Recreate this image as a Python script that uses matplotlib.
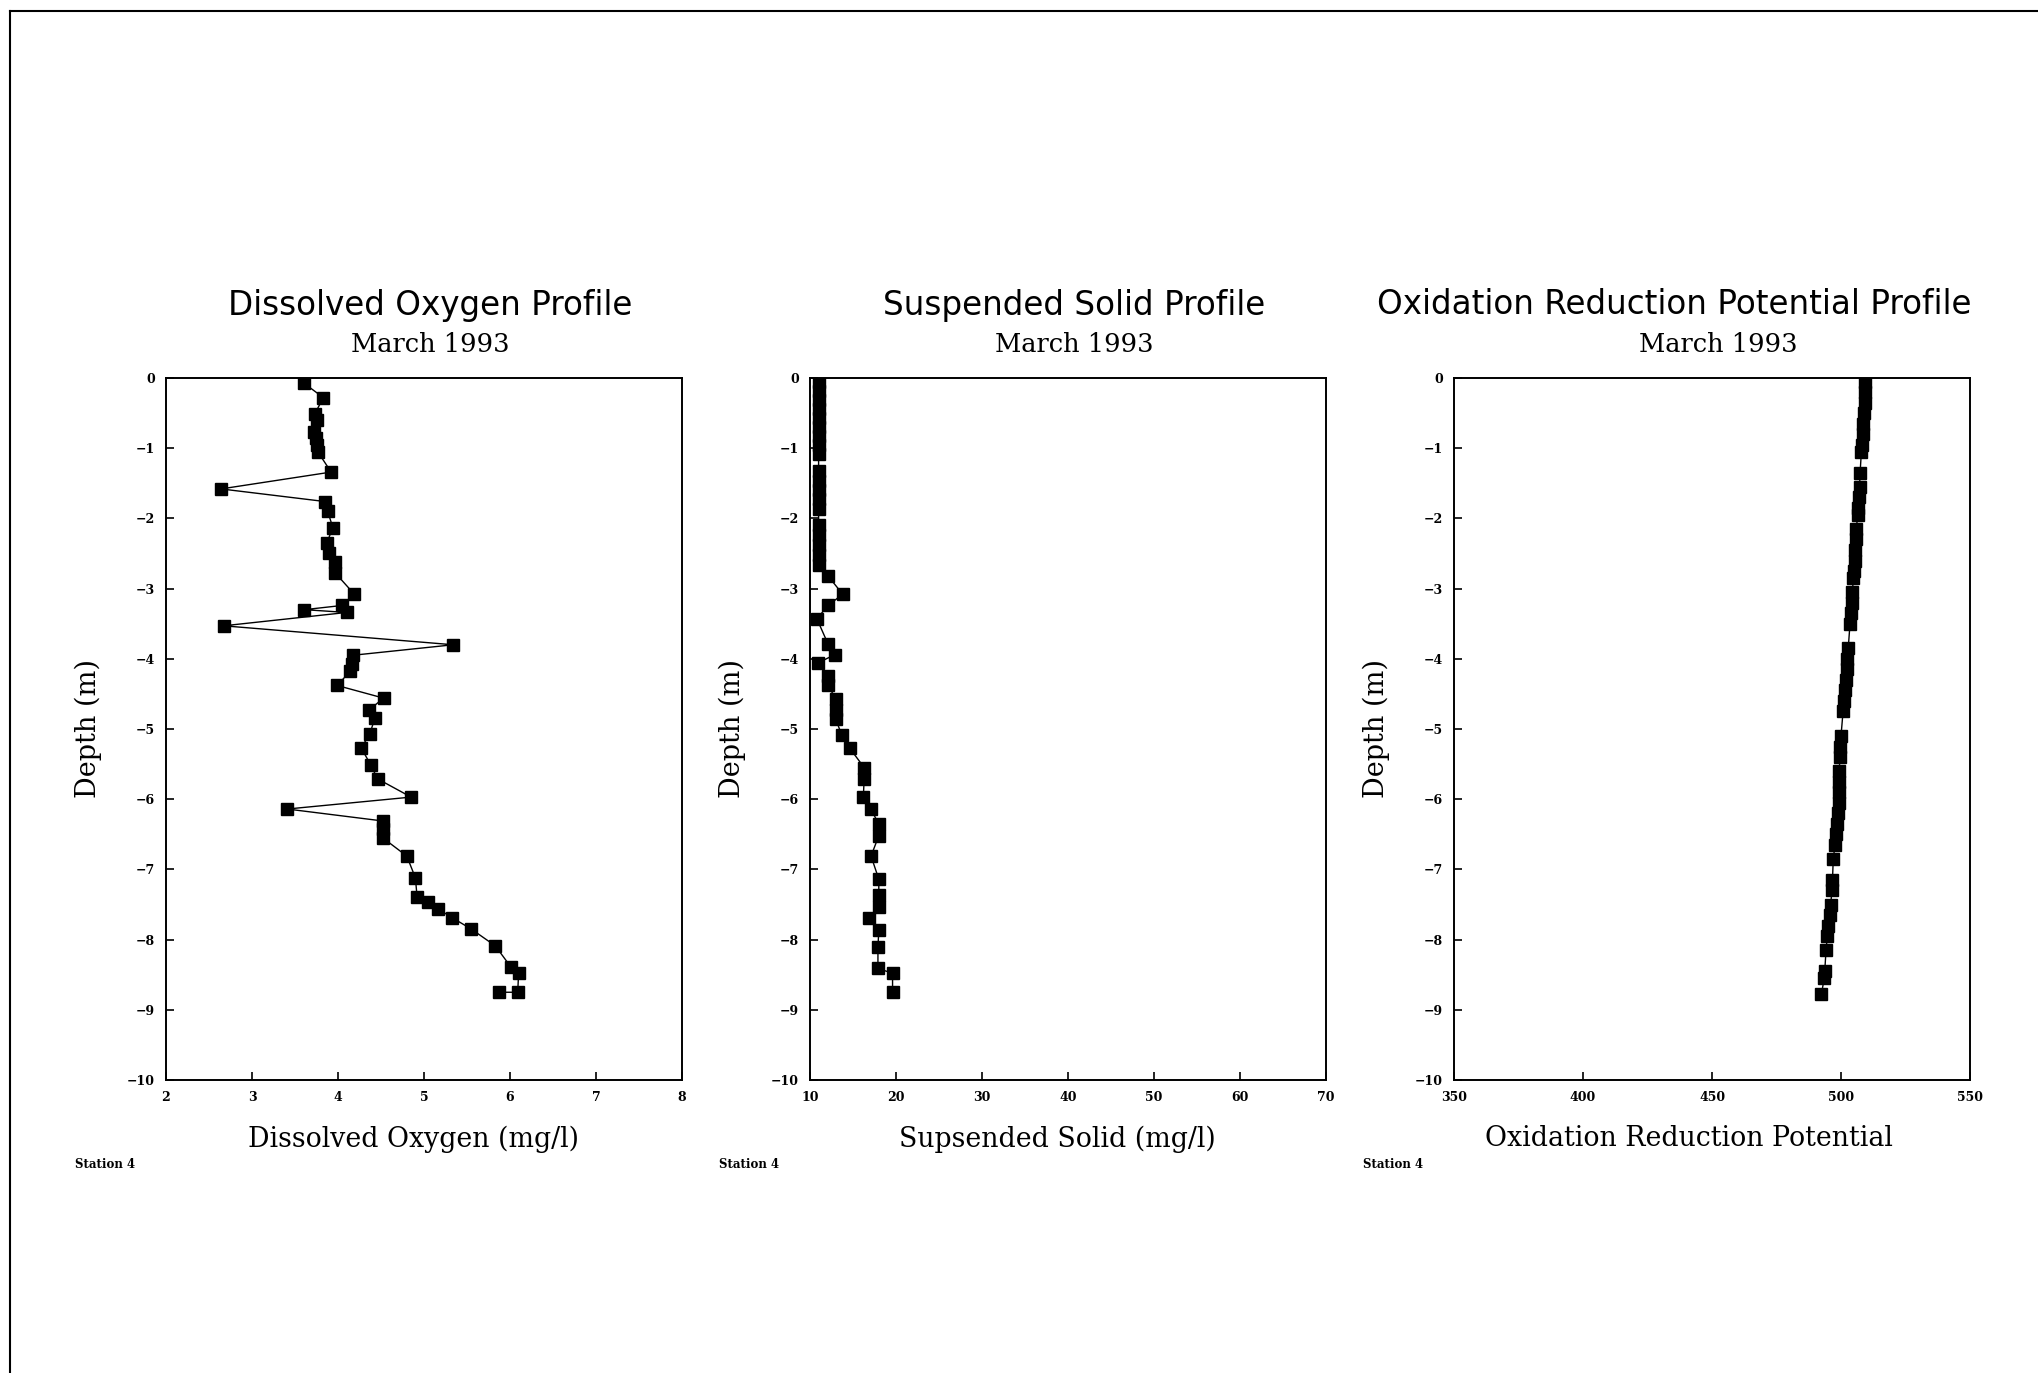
import numpy as np
import matplotlib
matplotlib.use("Agg")
import matplotlib.pyplot as plt

# Dissolved oxygen (mg/l) vs depth (m), station 4, March 1993
do_depth = [-0.07, -0.28, -0.51, -0.60, -0.77, -0.86, -0.96, -1.06, -1.34, -1.58,
            -1.76, -1.90, -2.13, -2.35, -2.49, -2.62, -2.78, -3.08, -3.24, -3.30,
            -3.34, -3.53, -3.80, -3.95, -4.08, -4.18, -4.38, -4.56, -4.73, -4.84,
            -5.07, -5.27, -5.51, -5.71, -5.97, -6.14, -6.31, -6.42, -6.55, -6.81,
            -7.12, -7.40, -7.46, -7.56, -7.69, -7.85, -8.09, -8.39, -8.47, -8.75,
            -8.75]
do_value = [3.60, 3.83, 3.73, 3.75, 3.72, 3.74, 3.76, 3.77, 3.92, 2.64,
            3.85, 3.88, 3.94, 3.87, 3.89, 3.96, 3.97, 4.19, 4.05, 3.61,
            4.10, 2.67, 5.34, 4.17, 4.16, 4.14, 3.99, 4.53, 4.36, 4.43,
            4.37, 4.27, 4.38, 4.46, 4.85, 3.41, 4.52, 4.52, 4.52, 4.80,
            4.90, 4.92, 5.05, 5.16, 5.33, 5.55, 5.83, 6.01, 6.10, 6.09,
            5.87]

# Suspended solid (mg/l)
ss_depth = [-0.05, -0.18, -0.31, -0.44, -0.57, -0.70, -0.83, -0.96, -1.08, -1.32,
            -1.47, -1.60, -1.73, -1.86, -2.10, -2.24, -2.38, -2.52, -2.66, -2.82,
            -3.08, -3.24, -3.43, -3.79, -3.94, -4.06, -4.25, -4.38, -4.57, -4.73,
            -4.86, -5.09, -5.27, -5.55, -5.71, -5.97, -6.14, -6.36, -6.52, -6.81,
            -7.14, -7.37, -7.53, -7.69, -7.87, -8.11, -8.41, -8.48, -8.75]
ss_value = [11.1, 11.0, 11.0, 11.1, 11.0, 11.0, 11.1, 11.0, 11.0, 11.0,
            11.0, 11.0, 11.0, 11.0, 11.0, 11.0, 11.0, 11.0, 11.0, 12.1,
            13.8, 12.1, 10.8, 12.1, 12.9, 10.9, 12.1, 12.1, 13.0, 13.0,
            13.0, 13.7, 14.6, 16.3, 16.3, 16.2, 17.1, 18.0, 18.0, 17.1,
            18.0, 18.0, 18.0, 16.9, 18.0, 17.9, 17.9, 19.6, 19.6]

# Oxidation reduction potential
orp_depth = [-0.05, -0.20, -0.35, -0.50, -0.65, -0.80, -0.95, -1.05, -1.35, -1.55,
             -1.70, -1.85, -1.95, -2.15, -2.30, -2.45, -2.60, -2.75, -2.85, -3.05,
             -3.20, -3.35, -3.50, -3.85, -4.00, -4.15, -4.30, -4.45, -4.60, -4.75,
             -5.10, -5.25, -5.40, -5.60, -5.75, -5.90, -6.05, -6.20, -6.35, -6.50,
             -6.65, -6.85, -7.15, -7.30, -7.50, -7.65, -7.80, -7.95, -8.15, -8.45,
             -8.55, -8.78]
orp_value = [509.4, 509.4, 509.2, 508.9, 508.6, 508.4, 508.1, 507.9, 507.4, 507.2,
             507.0, 506.7, 506.4, 506.0, 505.8, 505.5, 505.3, 505.0, 504.8, 504.4,
             504.1, 503.8, 503.5, 502.8, 502.5, 502.2, 501.9, 501.6, 501.2, 500.8,
             500.0, 499.7, 499.5, 499.4, 499.3, 499.2, 499.1, 498.7, 498.4, 498.1,
             497.7, 497.0, 496.7, 496.5, 496.0, 495.6, 495.1, 494.7, 494.2, 493.7,
             493.5, 492.4]

panels = [
    ("Dissolved Oxygen Profile", "Dissolved Oxygen (mg/l)", do_value, do_depth,
     (2, 8), [2, 3, 4, 5, 6, 7, 8]),
    ("Suspended Solid Profile", "Supsended Solid (mg/l)", ss_value, ss_depth,
     (10, 70), [10, 20, 30, 40, 50, 60, 70]),
    ("Oxidation Reduction Potential Profile", "Oxidation Reduction Potential",
     orp_value, orp_depth, (350, 550), [350, 400, 450, 500, 550]),
]

W, H = 2038, 1373
fig = plt.figure(figsize=(W / 100, H / 100), dpi=100)
fig.patch.set_facecolor("white")

serif = ["DejaVu Serif"]
sans = ["DejaVu Sans"]

lefts = [166, 810, 1454]
ax_w, ax_h = 516, 702
ax_top = 378
title_dx = [6, 6, -38]
xlab_dx = [-11, -11, -23]

for i, (title, xlabel, xs, ys, xlim, xticks) in enumerate(panels):
    ax = fig.add_axes([lefts[i] / W, 1 - (ax_top + ax_h) / H, ax_w / W, ax_h / H])
    ax.plot(xs, ys, color="black", lw=1.0, marker="s", ms=9,
            mfc="black", mec="black")
    ax.set_xlim(*xlim)
    ax.set_ylim(-10, 0)
    ax.set_xticks(xticks)
    ax.set_yticks(range(-10, 1))
    ax.set_xticklabels([str(t) for t in xticks])
    ax.set_yticklabels([str(t).replace("-", "\u2212") for t in range(-10, 1)])
    ax.tick_params(direction="in", length=6, width=1.2, pad=8, labelsize=9)
    for lab in ax.get_xticklabels() + ax.get_yticklabels():
        lab.set_fontfamily(serif)
        lab.set_fontweight("bold")
    for sp in ax.spines.values():
        sp.set_linewidth(1.4)

    cx = (lefts[i] + ax_w / 2) / W
    fig.text(cx + title_dx[i] / W, 1 - 305 / H, title, ha="center", va="center",
             fontsize=23.5, family=sans)
    fig.text(cx + 6 / W, 1 - 345 / H, "March 1993", ha="center", va="center",
             fontsize=18.5, family=serif)
    fig.text(cx + xlab_dx[i] / W, 1 - 1139 / H, xlabel, ha="center", va="center",
             fontsize=19.3, family=serif)
    fig.text((lefts[i] - 78) / W, 1 - 729 / H, "Depth (m)", ha="center", va="center",
             rotation=90, fontsize=19.5, family=serif)
    fig.text((lefts[i] - 91) / W, 1 - 1164 / H, "Station 4", ha="left", va="center",
             fontsize=8.5, family=serif, fontweight="bold")

# scanned page border (top and left edges)
fig.add_artist(plt.Line2D([10 / W, 1.0], [1 - 11 / H, 1 - 11 / H], color="black", lw=1.5))
fig.add_artist(plt.Line2D([10 / W, 10 / W], [0.0, 1 - 11 / H], color="black", lw=1.5))

fig.savefig("out.png", dpi=100, facecolor="white")
